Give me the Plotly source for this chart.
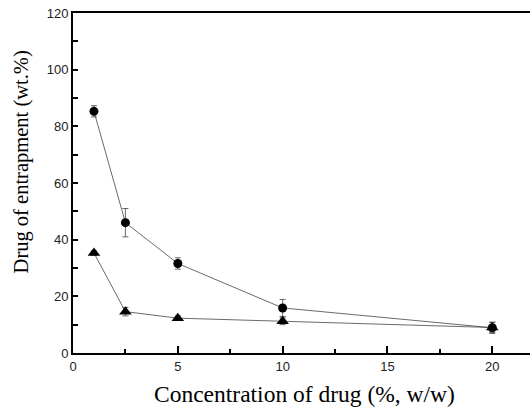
import plotly.graph_objects as go

conc = [1, 2.5, 5, 10, 20]
circle_y = [85.3, 46.0, 31.6, 15.9, 8.9]
circle_err = [2.0, 5.0, 2.0, 3.0, 2.0]
tri_y = [35.3, 14.6, 12.3, 11.2, 9.0]
tri_err = [0.8, 1.5, 0.8, 1.2, 1.8]

fig = go.Figure()
fig.add_trace(go.Scatter(
    x=conc, y=circle_y, mode="lines+markers",
    line=dict(color="#444", width=0.8),
    marker=dict(symbol="circle", size=9, color="black"),
    error_y=dict(type="data", array=circle_err, color="#444", thickness=0.8, width=3),
    showlegend=False))
fig.add_trace(go.Scatter(
    x=conc, y=tri_y, mode="lines+markers",
    line=dict(color="#444", width=0.8),
    marker=dict(symbol="triangle-up", size=11, color="black"),
    error_y=dict(type="data", array=tri_err, color="#444", thickness=0.8, width=3),
    showlegend=False))

tickfont = dict(family="Liberation Sans, Arial, sans-serif", size=13, color="#222")
serif = "Liberation Serif, Times New Roman, serif"

fig.update_layout(
    width=530, height=408,
    margin=dict(l=73, r=0, t=13, b=55),
    plot_bgcolor="white", paper_bgcolor="white",
    xaxis=dict(range=[0, 21.8], tickvals=[0, 5, 10, 15, 20], ticks="inside", ticklen=7,
               tickwidth=1.5, tickcolor="black",
               minor=dict(tickvals=[2.5, 7.5, 12.5, 17.5], ticks="inside", ticklen=4,
                          tickwidth=1.5, tickcolor="black"),
               showline=True, linecolor="black", linewidth=2, mirror=True,
               showgrid=False, zeroline=False, tickfont=tickfont),
    yaxis=dict(range=[0, 120], tickvals=[0, 20, 40, 60, 80, 100, 120], ticks="inside", ticklen=5,
               tickwidth=1.5, tickcolor="black",
               minor=dict(tickvals=[10, 30, 50, 70, 90, 110], ticks="inside", ticklen=5,
                          tickwidth=1.5, tickcolor="black"),
               showline=True, linecolor="black", linewidth=2, mirror=False,
               showgrid=False, zeroline=False, tickfont=tickfont),
    annotations=[
        dict(text="Concentration of drug (%, w/w)", xref="paper", yref="paper",
             x=0.5066, y=-0.1206, xanchor="center", yanchor="middle", showarrow=False,
             font=dict(family=serif, size=23.5, color="black")),
        dict(text="Drug of entrapment (wt.%)", xref="paper", yref="paper",
             x=-0.112, y=0.563, xanchor="center", yanchor="middle", showarrow=False,
             textangle=-90, font=dict(family=serif, size=20.5, color="black")),
    ],
)
fig.write_html("out.html")
